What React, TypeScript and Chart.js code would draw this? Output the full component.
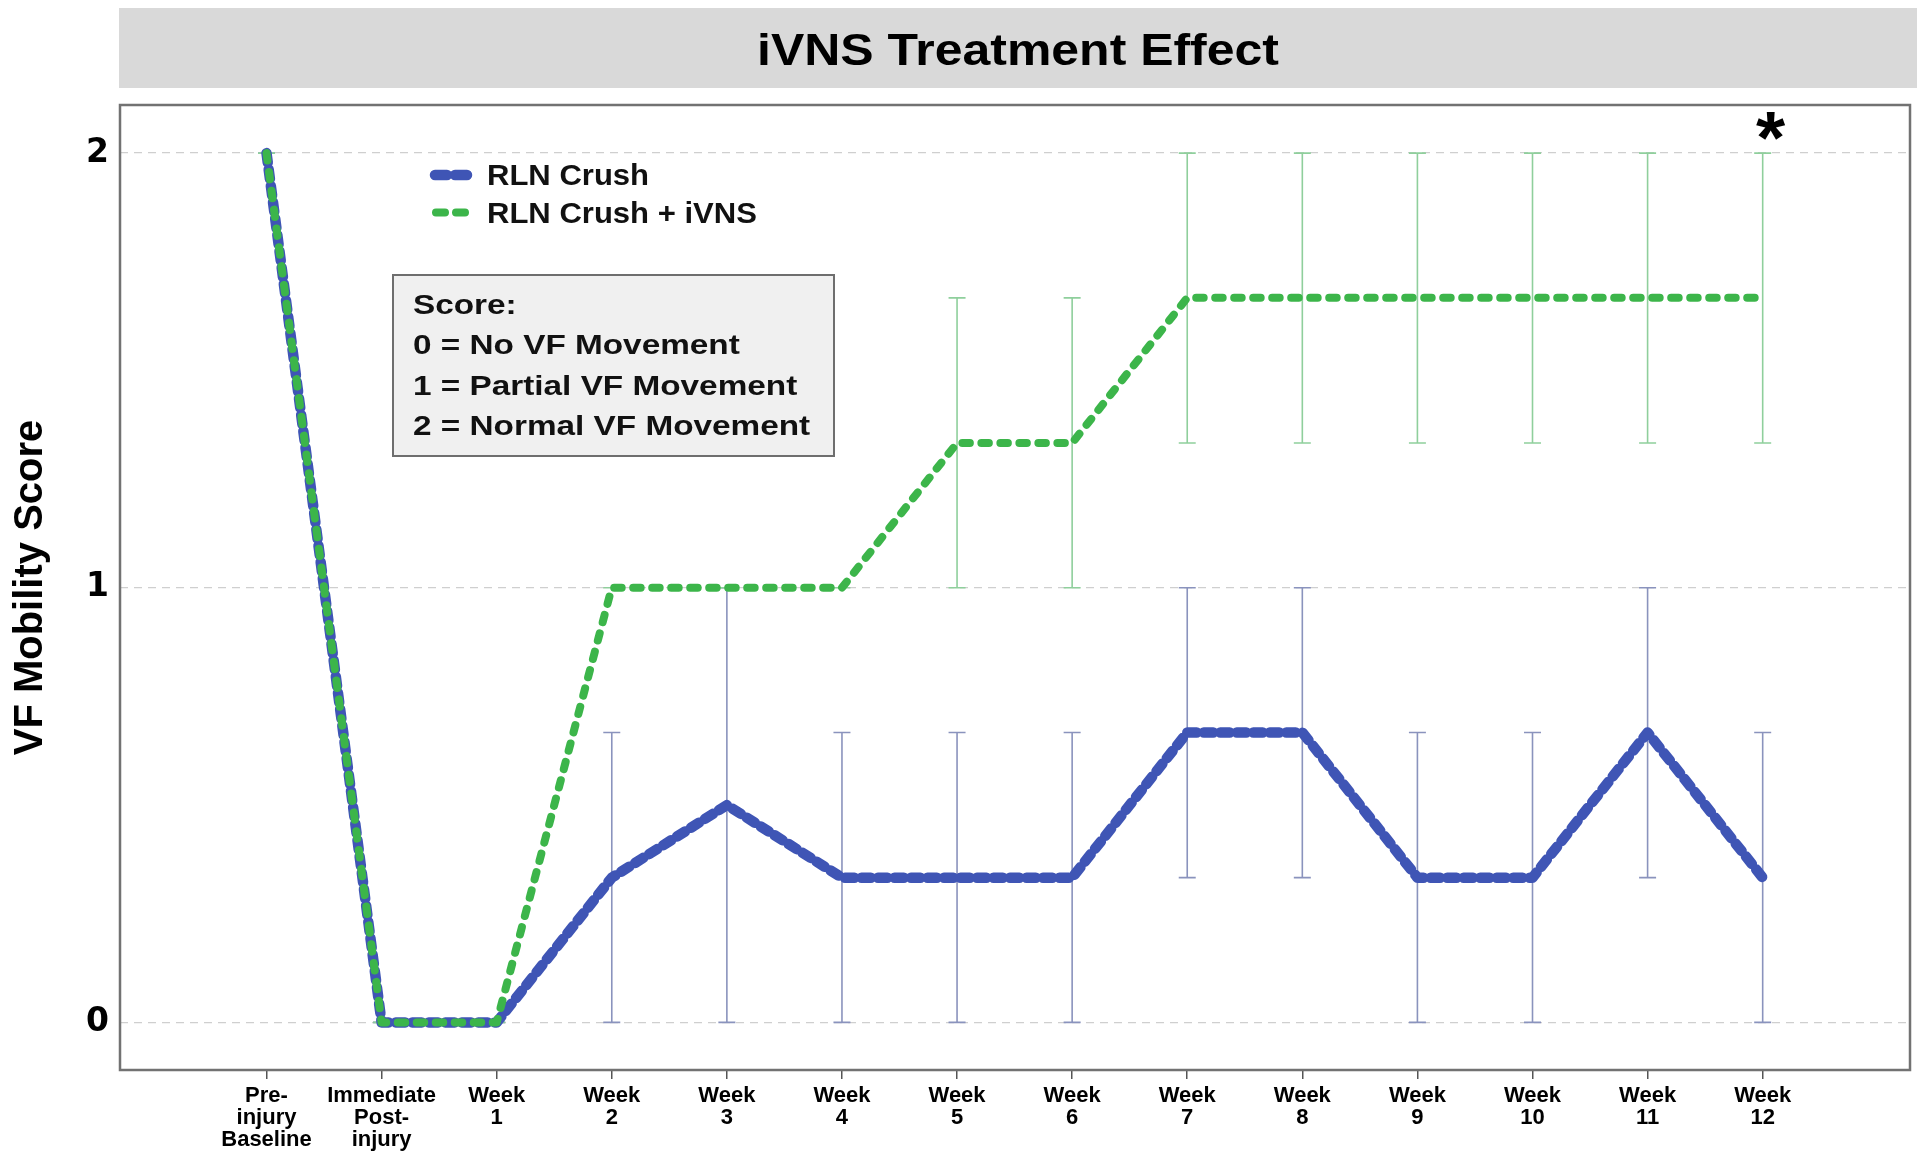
import React, { useEffect, useRef } from "react";
import { Chart, registerables } from "chart.js";

Chart.register(...registerables);

// ---------------- data ----------------
const chartTitle = "iVNS Treatment Effect";
const yAxisTitle = "VF Mobility Score";
const xLabels: string[][] = [
  ["Pre-", "injury", "Baseline"],
  ["Immediate", "Post-", "injury"],
  ["Week", "1"],
  ["Week", "2"],
  ["Week", "3"],
  ["Week", "4"],
  ["Week", "5"],
  ["Week", "6"],
  ["Week", "7"],
  ["Week", "8"],
  ["Week", "9"],
  ["Week", "10"],
  ["Week", "11"],
  ["Week", "12"],
];
const yTickValues = [0, 1, 2];
const seriesNames = ["RLN Crush", "RLN Crush + iVNS"];

const crushValues = [2, 0, 0, 0.333, 0.5, 0.333, 0.333, 0.333, 0.667, 0.667, 0.333, 0.333, 0.667, 0.333];
const crushLow = [2, 0, 0, 0, 0, 0, 0, 0, 0.333, 0.333, 0, 0, 0.333, 0];
const crushHigh = [2, 0, 0, 0.667, 1, 0.667, 0.667, 0.667, 1, 1, 0.667, 0.667, 1, 0.667];

const ivnsValues = [2, 0, 0, 1, 1, 1, 1.333, 1.333, 1.667, 1.667, 1.667, 1.667, 1.667, 1.667];
const ivnsLow = [2, 0, 0, 1, 1, 1, 1, 1, 1.333, 1.333, 1.333, 1.333, 1.333, 1.333];
const ivnsHigh = [2, 0, 0, 1, 1, 1, 1.667, 1.667, 2, 2, 2, 2, 2, 2];

const scoreLines = ["Score:", "0 = No VF Movement", "1 = Partial VF Movement", "2 = Normal VF Movement"];
const significanceIndex = 13;
const significanceMark = "*";

// ---------------- styles ----------------
const FONT = '"Liberation Sans", Arial, Helvetica, sans-serif';
const BLUE = "#3f55b5";
const GREEN = "#3cb54a";
const BLUE_ERR = "#8a93bd";
const GREEN_ERR = "#8fcf9c";

function stretchedText(ctx: CanvasRenderingContext2D, text: string, x: number, yBase: number, sx: number, align: CanvasTextAlign) {
  ctx.save();
  ctx.translate(x, yBase);
  ctx.scale(sx, 1);
  ctx.textAlign = align;
  ctx.textBaseline = "alphabetic";
  ctx.fillText(text, 0, 0);
  ctx.restore();
}

const framePlugin = {
  id: "frameAndErrors",
  beforeDraw(chart: any) {
    const { ctx } = chart;
    ctx.save();
    ctx.fillStyle = "#ffffff";
    ctx.fillRect(0, 0, chart.width, chart.height);
    // title bar
    ctx.fillStyle = "#d9d9d9";
    ctx.fillRect(119, 8, 1917 - 119, 80);
    ctx.fillStyle = "#000";
    ctx.font = `bold 45px ${FONT}`;
    stretchedText(ctx, chartTitle, 1018, 49 + 0.358 * 45, 1.11, "center");
    ctx.restore();
  },
  beforeDatasetsDraw(chart: any) {
    const { ctx, chartArea, scales } = chart;
    const x = scales.x;
    const y = scales.y;
    ctx.save();
    // error bars
    const sets = [
      { low: crushLow, high: crushHigh, color: BLUE_ERR },
      { low: ivnsLow, high: ivnsHigh, color: GREEN_ERR },
    ];
    ctx.lineWidth = 1.6;
    ctx.setLineDash([]);
    sets.forEach((s) => {
      ctx.strokeStyle = s.color;
      s.low.forEach((lo, i) => {
        const px = x.getPixelForValue(i);
        const p1 = y.getPixelForValue(lo);
        const p2 = y.getPixelForValue(s.high[i]);
        ctx.beginPath();
        ctx.moveTo(px, p1);
        ctx.lineTo(px, p2);
        ctx.moveTo(px - 8.5, p1);
        ctx.lineTo(px + 8.5, p1);
        ctx.moveTo(px - 8.5, p2);
        ctx.lineTo(px + 8.5, p2);
        ctx.stroke();
      });
    });
    // frame
    ctx.strokeStyle = "#727272";
    ctx.lineWidth = 2.5;
    ctx.strokeRect(chartArea.left, chartArea.top, chartArea.right - chartArea.left, chartArea.bottom - chartArea.top);
    ctx.restore();
  },
  afterDraw(chart: any) {
    const { ctx, scales } = chart;
    const x = scales.x;
    const y = scales.y;
    ctx.save();
    // legend
    ctx.lineCap = "round";
    ctx.strokeStyle = BLUE;
    ctx.lineWidth = 10.5;
    ctx.setLineDash([12, 8]);
    ctx.beginPath();
    ctx.moveTo(435, 175);
    ctx.lineTo(467, 175);
    ctx.stroke();
    ctx.strokeStyle = GREEN;
    ctx.lineWidth = 8;
    ctx.setLineDash([9, 11]);
    ctx.beginPath();
    ctx.moveTo(436, 212.5);
    ctx.lineTo(465, 212.5);
    ctx.stroke();
    ctx.setLineDash([]);
    ctx.fillStyle = "#111";
    ctx.font = `bold 29px ${FONT}`;
    stretchedText(ctx, seriesNames[0], 487, 175 + 0.358 * 29, 1.07, "left");
    stretchedText(ctx, seriesNames[1], 487, 212.5 + 0.358 * 29, 1.07, "left");

    // score box
    ctx.fillStyle = "#f0f0f0";
    ctx.fillRect(393, 275, 441, 181);
    ctx.strokeStyle = "#6e6e6e";
    ctx.lineWidth = 2;
    ctx.strokeRect(393, 275, 441, 181);
    ctx.fillStyle = "#111";
    ctx.font = `bold 28px ${FONT}`;
    const lineY = [304, 344, 384.5, 425];
    scoreLines.forEach((t, i) => {
      stretchedText(ctx, t, 413, lineY[i] + 0.358 * 28, 1.19, "left");
    });

    // significance
    ctx.fillStyle = "#000";
    ctx.font = `bold 75px ${FONT}`;
    const cx = x.getPixelForValue(significanceIndex) + 8;
    const cy = y.getPixelForValue(2) - 32;
    stretchedText(ctx, significanceMark, cx, cy + 0.56 * 75, 1, "center");
    ctx.restore();
  },
};

export default function App() {
  const ref = useRef<HTMLCanvasElement>(null);

  useEffect(() => {
    const canvas = ref.current;
    if (!canvas) return;
    const toPoints = (vals: number[]) => vals.map((v, i) => ({ x: i, y: v }));
    const chart = new Chart(canvas, {
      type: "line",
      data: {
        datasets: [
          {
            label: seriesNames[1],
            data: toPoints(ivnsValues),
            borderColor: GREEN,
            backgroundColor: GREEN,
            borderWidth: 8,
            borderDash: [7.5, 11.5],
            borderCapStyle: "round",
            borderJoinStyle: "round",
            pointRadius: 0,
            tension: 0,
            order: 0,
          },
          {
            label: seriesNames[0],
            data: toPoints(crushValues),
            borderColor: BLUE,
            backgroundColor: BLUE,
            borderWidth: 10.5,
            borderDash: [9.5, 7],
            borderCapStyle: "round",
            borderJoinStyle: "round",
            pointRadius: 0,
            tension: 0,
            order: 1,
          },
        ],
      },
      options: {
        responsive: false,
        animation: false,
        devicePixelRatio: 1,
        events: [],
        layout: { padding: { top: 105, right: 10, left: 0, bottom: 0 } },
        plugins: {
          legend: { display: false },
          title: { display: false },
          tooltip: { enabled: false },
        },
        scales: {
          x: {
            type: "linear",
            min: -1.273,
            max: 14.28,
            afterBuildTicks: (scale: any) => {
              scale.ticks = xLabels.map((_, i) => ({ value: i }));
            },
            afterFit: (scale: any) => {
              scale.height = 90;
            },
            grid: {
              display: true,
              drawOnChartArea: false,
              drawTicks: true,
              tickLength: 9,
              color: "#555",
              lineWidth: 1.5,
            },
            border: { display: false },
            ticks: {
              autoSkip: false,
              maxRotation: 0,
              minRotation: 0,
              padding: 6,
              color: "#000",
              font: { family: FONT, size: 22, weight: "bold", lineHeight: 1.0 },
              callback: (value: any) => xLabels[Math.round(Number(value))] || "",
            },
          },
          y: {
            type: "linear",
            min: -0.1095,
            max: 2.1107,
            afterBuildTicks: (scale: any) => {
              scale.ticks = yTickValues.map((v) => ({ value: v }));
            },
            afterFit: (scale: any) => {
              scale.width = 120;
            },
            grid: {
              display: true,
              drawTicks: false,
              color: "#cfcfcf",
              lineWidth: 1.3,
            },
            border: { display: false, dash: [8, 6] },
            ticks: {
              padding: 11,
              color: "#000",
              font: { family: '"DejaVu Sans", sans-serif', size: 33, weight: "bold" },
              callback: (value: any) => String(value),
            },
            title: {
              display: true,
              text: yAxisTitle,
              color: "#000",
              font: { family: FONT, size: 40, weight: "bold" },
              padding: { top: 7, bottom: 0 },
            },
          },
        },
      } as any,
      plugins: [framePlugin],
    });
    return () => chart.destroy();
  }, []);

  return (
    <div style={{ position: "fixed", left: 0, top: 0, width: 1920, height: 1160, background: "#fff" }}>
      <canvas ref={ref} width={1920} height={1160} style={{ display: "block", width: 1920, height: 1160 }} />
    </div>
  );
}
